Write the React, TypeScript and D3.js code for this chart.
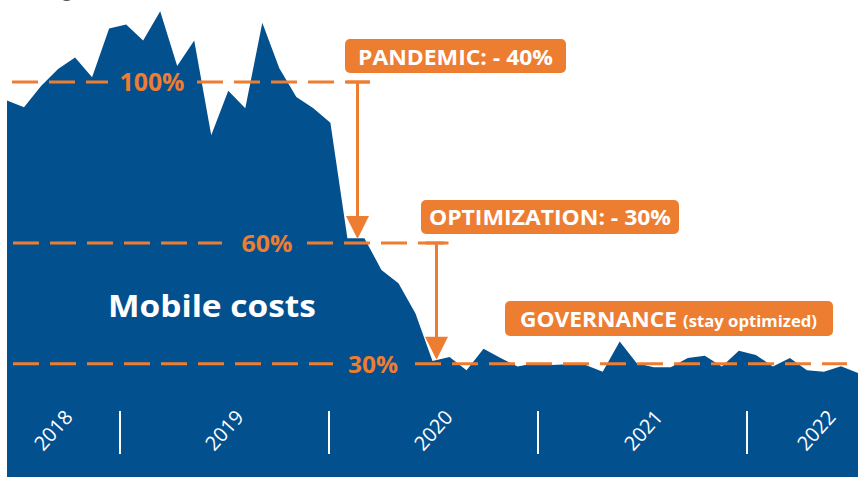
import React from "react";
import * as d3 from "d3";

// ---- data (percent of pre-pandemic baseline, one point per period) ----
const costValues: number[] = [
  95.4, 93.7, 99.0, 103.2, 106.1, 101.2, 113.3, 114.3, 110.3, 117.6,
  104.0, 110.3, 86.8, 97.8, 93.5, 114.7, 103.4, 96.3, 93.5, 89.9,
  61.2, 61.2, 53.3, 50.0, 42.5, 30.7, 31.7, 28.4, 33.7, 31.4,
  29.3, 30.1, 29.7, 29.9, 29.7, 28.0, 35.5, 30.1, 29.1, 29.1,
  31.4, 32.0, 29.3, 33.2, 32.2, 29.3, 31.4, 28.4, 28.0, 29.4, 27.7,
];
const yearLabels: string[] = ["2018", "2019", "2020", "2021", "2022"];
const yearLabelPos: number[] = [2.7, 12.75, 25.03, 37.37, 47.53];
const yearDividers: number[] = [6.64, 18.92, 31.2, 43.48];
const levelValues: number[] = [100, 60, 30];
const levelLabels: string[] = ["100%", "60%", "30%"];

const W = 858;
const H = 477;
const BLUE = "#03508F";
const ORANGE = "#ED7D31";
const FONT = "'Open Sans', 'DejaVu Sans', sans-serif";

export default function App() {
  const x = d3.scaleLinear().domain([0, costValues.length - 1]).range([7, 858]);
  const y = d3.scaleLinear().domain([0, 100]).range([484.5, 82]);

  const area = d3
    .area<number>()
    .x((_, i) => x(i))
    .y0(H)
    .y1((d) => y(d));

  // dashed level line segments (gaps leave room for labels)
  const levelSegs: [number, number][][] = [
    [[12, 108], [197, 370]],
    [[13, 222], [307, 448]],
    [[13, 333], [415, 847]],
  ];
  const levelLabelX = [152, 267, 373];
  const levelLabelW = [65, 51, 50];
  const levelFont = [25, 24, 24];

  const arrows = [
    { x: 357.5, from: 100, to: 60 },
    { x: 436.5, from: 60, to: 30 },
  ];

  return (
    <svg
      width={W}
      height={H}
      style={{ position: "absolute", left: 0, top: 0, background: "#fff" }}
      fontFamily={FONT}
    >
      <text x={62} y={-3} fontSize={18} fill="#595959" fontFamily={FONT}>
        g
      </text>
      <path d={area(costValues) || ""} fill={BLUE} />

      {levelValues.map((v, li) => (
        <g key={"lvl" + li}>
          {levelSegs[li].map(([a, b], si) => (
            <line
              key={si}
              x1={a}
              x2={b}
              y1={y(v)}
              y2={y(v)}
              stroke={ORANGE}
              strokeWidth={3}
              strokeDasharray="26 11"
            />
          ))}
          <text
            x={levelLabelX[li]}
            y={y(v) + 9}
            textAnchor="middle"
            fontSize={levelFont[li]}
            fontWeight={700}
            fill={ORANGE}
            textLength={levelLabelW[li]}
            lengthAdjust="spacingAndGlyphs"
          >
            {levelLabels[li]}
          </text>
        </g>
      ))}

      {arrows.map((a, i) => {
        const y1 = y(a.from);
        const tip = y(a.to) - 4;
        const headTop = tip - 23;
        return (
          <g key={"arr" + i}>
            <line x1={a.x - 11} x2={a.x + 12} y1={y1} y2={y1} stroke={ORANGE} strokeWidth={3} />
            <line x1={a.x} x2={a.x} y1={y1} y2={headTop + 2} stroke={ORANGE} strokeWidth={3} />
            <path
              d={`M${a.x - 11.5},${headTop} L${a.x + 11.5},${headTop} L${a.x},${tip} Z`}
              fill={ORANGE}
            />
          </g>
        );
      })}

      {/* annotation boxes */}
      <rect x={345} y={39} width={221} height={34} rx={5} fill={ORANGE} />
      <text x={358} y={65} fontSize={22} fontWeight={700} fill="#fff" textLength={195} lengthAdjust="spacingAndGlyphs">
        PANDEMIC: - 40%
      </text>

      <rect x={421} y={200} width={258} height={34} rx={5} fill={ORANGE} />
      <text x={429} y={225} fontSize={21} fontWeight={700} fill="#fff" textLength={242} lengthAdjust="spacingAndGlyphs">
        OPTIMIZATION: - 30%
      </text>

      <rect x={505} y={301} width={328} height={35} rx={5} fill={ORANGE} />
      <text x={520} y={327} fontSize={21} fontWeight={700} fill="#fff" textLength={157} lengthAdjust="spacingAndGlyphs">
        GOVERNANCE
      </text>
      <text x={683} y={327} fontSize={16} fontWeight={700} fill="#fff" textLength={134} lengthAdjust="spacingAndGlyphs">
        (stay optimized)
      </text>

      <text
        x={212}
        y={317}
        textAnchor="middle"
        fontSize={30}
        fontWeight={700}
        fill="#fff"
        textLength={208}
        lengthAdjust="spacingAndGlyphs"
      >
        Mobile costs
      </text>

      {yearDividers.map((d, i) => (
        <line key={"div" + i} x1={x(d)} x2={x(d)} y1={411} y2={454} stroke="#fff" strokeWidth={2} />
      ))}
      {yearLabels.map((t, i) => (
        <text
          key={"yl" + i}
          x={x(yearLabelPos[i])}
          y={430}
          textAnchor="middle"
          dominantBaseline="central"
          fontSize={20}
          fill="#fff"
          transform={`rotate(-48 ${x(yearLabelPos[i])} 430)`}
        >
          {t}
        </text>
      ))}
    </svg>
  );
}
